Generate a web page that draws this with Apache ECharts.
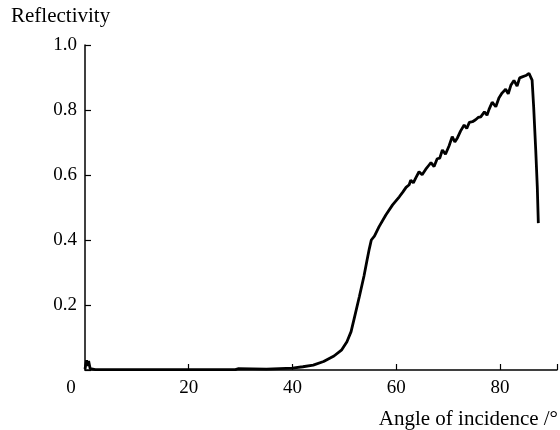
<!DOCTYPE html>
<html>
<head>
<meta charset="utf-8">
<script src="https://cdn.jsdelivr.net/npm/echarts@6/dist/echarts.min.js"></script>
<style>
  html, body { margin: 0; padding: 0; background: #fff; }
  #chart { width: 560px; height: 430px; }
</style>
</head>
<body>
<div id="chart"></div>
<script>
// angle of incidence (deg) and reflectivity
var angles = [0, 0.3, 0.5, 0.7, 1.0, 2, 10, 20, 29, 29.5, 35, 40, 42, 44, 46, 48, 49.5,
  50.5, 51.3, 52, 52.9, 53.8, 54.4, 54.8, 55.2, 55.8, 56.7, 58, 59.3, 60.6, 61.3, 61.9,
  62.5, 62.8, 63.3, 63.8, 64.4, 65.0, 65.7, 66.3, 66.7, 67.3, 67.9, 68.4, 68.9, 69.5, 70.2,
  70.8, 71.3, 71.8, 72.4, 73.1, 73.6, 74.1, 74.7, 75.3, 75.8, 76.3, 77.0, 77.5, 77.9,
  78.5, 79.2, 79.8, 80.4, 81.1, 81.6, 82.1, 82.7, 83.3, 83.8, 84.3, 85.0, 85.6, 86.0,
  86.2, 86.5, 86.9, 87.2, 87.4];
var reflect = [0.003, 0.03, 0.012, 0.028, 0.004, 0.001, 0.001, 0.001, 0.001, 0.004, 0.003,
  0.006, 0.010, 0.015, 0.026, 0.043, 0.062,
  0.087, 0.118, 0.165, 0.226, 0.29, 0.34, 0.372, 0.40, 0.412, 0.441, 0.477, 0.508, 0.533,
  0.548, 0.562,
  0.570, 0.584, 0.576, 0.592, 0.61, 0.601, 0.618, 0.63, 0.638, 0.626, 0.65, 0.652, 0.677,
  0.664, 0.69,
  0.718, 0.702, 0.714, 0.735, 0.754, 0.743, 0.762, 0.764, 0.77, 0.777, 0.779, 0.794, 0.784,
  0.802,
  0.824, 0.81, 0.837, 0.852, 0.864, 0.85, 0.876, 0.891, 0.874, 0.899, 0.902, 0.906,
  0.913, 0.899,
  0.892, 0.81, 0.677, 0.564, 0.452];
var xTicks = [0, 20, 40, 60, 80];
var yTicks = [0.2, 0.4, 0.6, 0.8, 1.0];

var points = [];
for (var i = 0; i < angles.length; i++) {
  points.push([angles[i], reflect[i]]);
}

var serif = 'Liberation Serif';

var myChart = echarts.init(document.getElementById('chart'));
var options = {
  animation: false,
  grid: {
    left: 85,
    right: 2,
    top: 45,
    bottom: 60
  },
  xAxis: {
    type: 'value',
    min: 0,
    max: 91,
    interval: 20,
    splitLine: { show: false },
    axisLine: { lineStyle: { color: '#000', width: 1.5 } },
    axisTick: { inside: true, length: 6, lineStyle: { color: '#000', width: 1.2 } },
    axisLabel: {
      color: '#000',
      fontFamily: serif,
      fontSize: 19,
      margin: 9,
      formatter: function (v) {
        if (xTicks.indexOf(v) < 0) return '';
        return v === 0 ? '{z|0}' : String(v);
      },
      rich: {
        z: { fontFamily: serif, fontSize: 19, color: '#000', padding: [0, 28, 0, 0] }
      }
    }
  },
  yAxis: {
    type: 'value',
    min: 0,
    max: 1,
    interval: 0.2,
    splitLine: { show: false },
    axisLine: { lineStyle: { color: '#000', width: 1.5 } },
    axisTick: { inside: true, length: 6, lineStyle: { color: '#000', width: 1.2 } },
    axisLabel: {
      color: '#000',
      fontFamily: serif,
      fontSize: 19,
      margin: 8,
      formatter: function (v) {
        for (var k = 0; k < yTicks.length; k++) {
          if (Math.abs(yTicks[k] - v) < 1e-6) return yTicks[k].toFixed(1);
        }
        return '';
      }
    }
  },
  graphic: [
    {
      type: 'text',
      left: 11,
      top: 6,
      style: { text: 'Reflectivity', fill: '#000', font: '21px "Liberation Serif"' }
    },
    {
      type: 'text',
      right: 2,
      top: 409,
      style: { text: 'Angle of incidence /°', fill: '#000', font: '21px "Liberation Serif"' }
    }
  ],
  series: [
    {
      type: 'line',
      data: points,
      showSymbol: false,
      lineStyle: { color: '#000', width: 2.8 }
    }
  ]
};
myChart.setOption(options);
</script>
</body>
</html>
